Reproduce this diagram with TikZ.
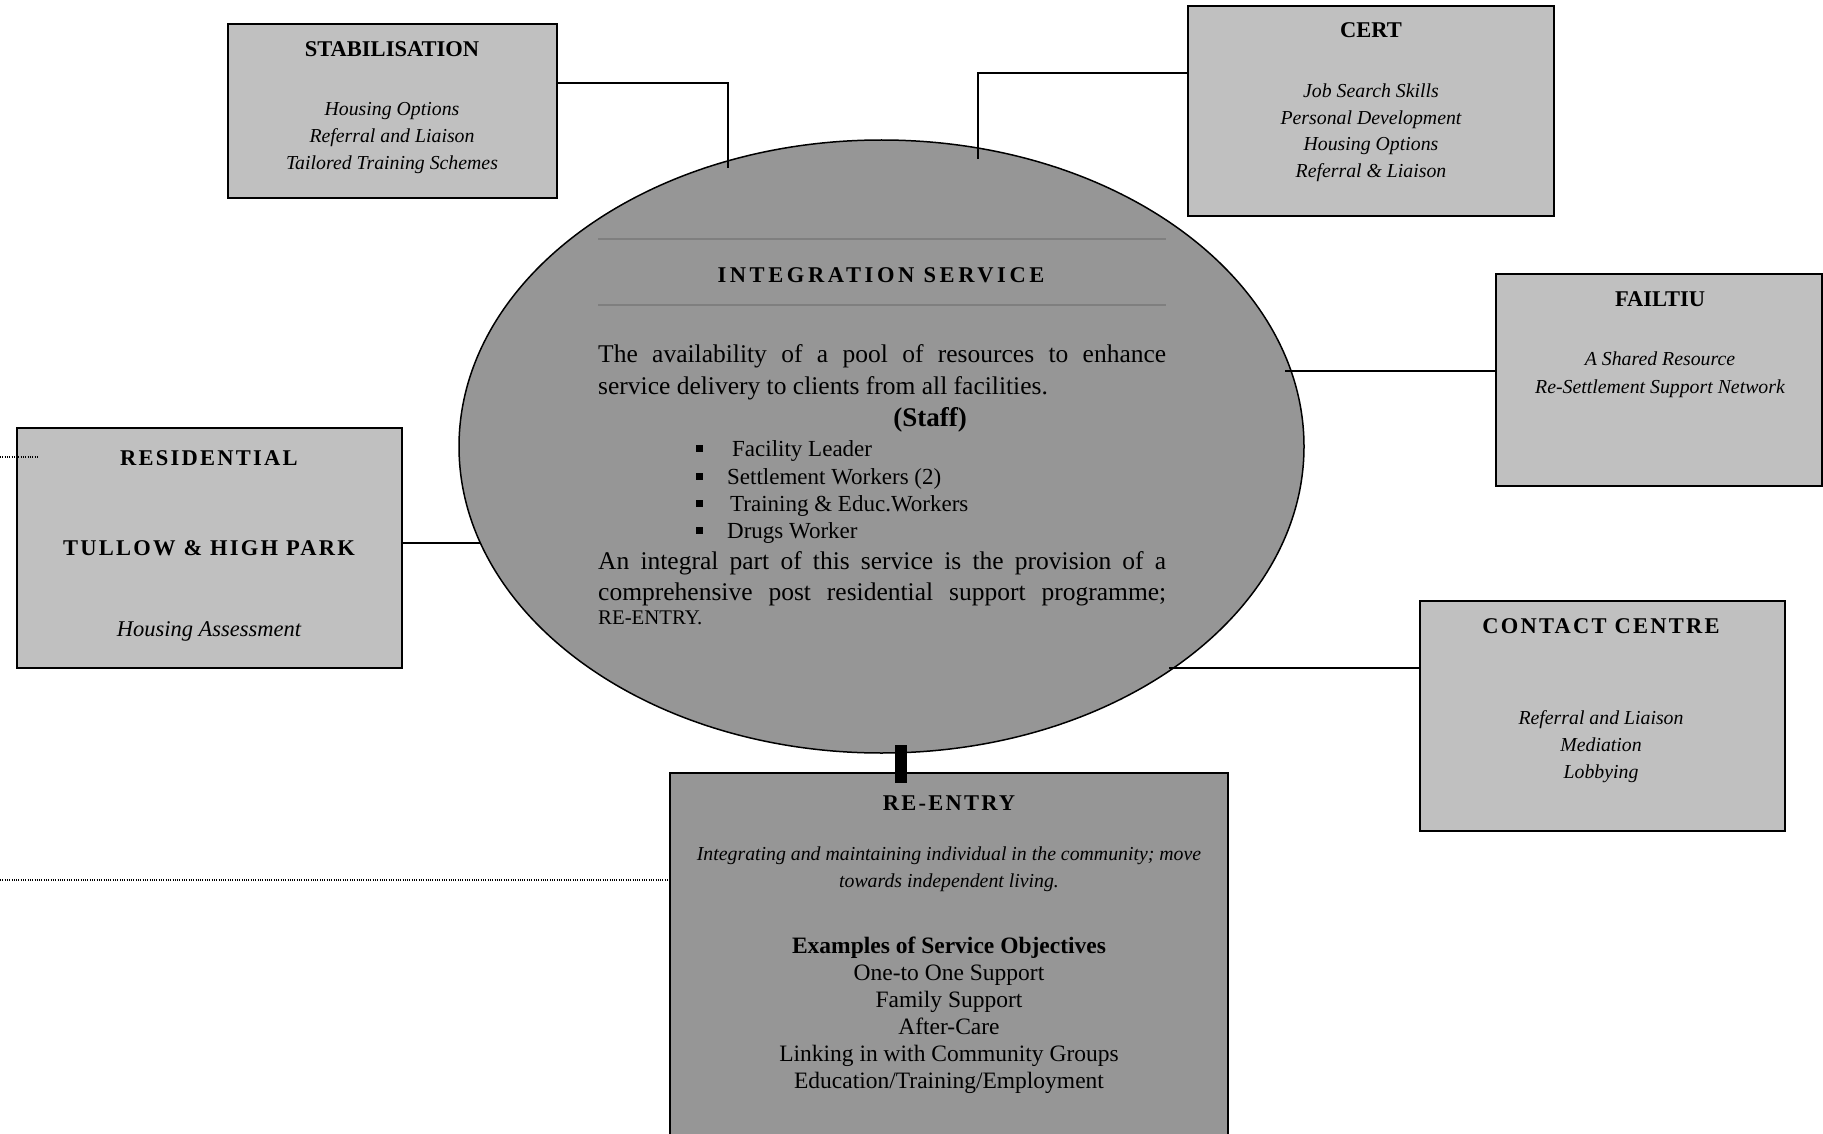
\documentclass[tikz,border=0pt]{standalone}
\usepackage{fontspec}
\setmainfont{Liberation Serif}
\usetikzlibrary{shapes.geometric}
\definecolor{boxgray}{HTML}{C0C0C0}
\definecolor{midgray}{HTML}{969696}
\definecolor{rulegray}{HTML}{7F7F7F}
\begin{document}
\begin{tikzpicture}[x=1pt,y=-1pt,
  box/.style={draw, line width=1.8pt, fill=boxgray, inner sep=0pt, outer sep=0pt},
  dbox/.style={box, fill=midgray},
  title/.style={anchor=base, inner sep=0pt, font=\fontsize{22.5}{27}\selectfont\bfseries},
  stitle/.style={anchor=base, inner sep=0pt, font={\fontsize{22.5}{27}\selectfont\bfseries\addfontfeature{LetterSpace=10}}},
  wtitle/.style={anchor=base, inner sep=0pt, font={\fontsize{22.5}{27}\selectfont\bfseries\addfontfeature{LetterSpace=16}}},
  ital/.style={anchor=base, inner sep=0pt, font=\fontsize{19.8}{27}\selectfont\itshape},
  rom/.style={anchor=base, inner sep=0pt, font=\fontsize{23.5}{27}\selectfont},
  body/.style={anchor=base west, inner sep=0pt, font=\fontsize{25.5}{32}\selectfont},
  bul/.style={anchor=base west, inner sep=0pt, font=\fontsize{23}{27}\selectfont},
  sq/.style={fill=black, minimum width=7pt, minimum height=7pt, inner sep=0pt},
  conn/.style={line width=1.5pt},
  dots/.style={line width=1.1pt, dash pattern=on 1pt off 1.3pt},
  rule/.style={rulegray, line width=1.5pt},
  barline/.style={line width=12pt}
]
\useasboundingbox (0,0) rectangle (1823,1134);
\clip (0,0) rectangle (1823,1134);

% central ellipse
\node[draw, line width=1.5pt, fill=midgray, ellipse, minimum width=845pt, minimum height=613pt, inner sep=0pt] (ell) at (881.5,446.5) {};

% boxes
\node[box, minimum width=329pt, minimum height=174pt] (stab) at (392.5,111) {};
\node[box, minimum width=366pt, minimum height=210pt] (cert) at (1371,111) {};
\node[box, minimum width=326pt, minimum height=212pt] (fail) at (1659,380) {};
\node[box, minimum width=385pt, minimum height=240pt] (res) at (209.5,548) {};
\node[box, minimum width=365pt, minimum height=230pt] (cont) at (1602.5,716) {};
\node[dbox, minimum width=558pt, minimum height=400pt] (reen) at (949,973) {};

% connectors
\coordinate (s1) at (728,168);
\draw[conn] (stab.east |- 0,83) -| (s1);
\coordinate (c1) at (978,159);
\draw[conn] (cert.west |- 0,73) -| (c1);
\coordinate (f1) at (1285,371);
\draw[conn] (f1) -- (fail.west |- f1);
\coordinate (k1) at (1169,668);
\draw[conn] (k1) -- (cont.west |- k1);
\coordinate (r1) at (480,543);
\draw[conn] (res.east |- r1) -- (r1);
\coordinate (bt) at (901,745);
\coordinate (bb) at (901,783);
\draw[barline] (bt) -- (bb);

% dotted lines
\coordinate (d1) at (0,457);
\coordinate (d1e) at (38,457);
\draw[dots] (d1) -- (d1e);
\coordinate (d2) at (0,880);
\draw[dots] (d2) -- (reen.west |- d2);

% ellipse content
\coordinate (ra) at (598,239); \coordinate (rb) at (1166,239);
\coordinate (rc) at (598,305); \coordinate (rd) at (1166,305);
\draw[rule] (ra) -- (rb);
\draw[rule] (rc) -- (rd);
\node[wtitle] (ist) at (881,282.5) {INTEGRATION SERVICE};
\node[body] (p1) at (598,362) {\makebox[568pt][s]{The availability of a pool of resources to enhance}};
\node[body] (p2) at (598,394) {service delivery to clients from all facilities.};
\node[anchor=base, inner sep=0pt, font=\fontsize{27}{32}\selectfont\bfseries] (staff) at (930,426.5) {(Staff)};
\node[sq] (q1) at (699,448.5) {};
\node[sq] (q2) at (699,476.5) {};
\node[sq] (q3) at (699,503.5) {};
\node[sq] (q4) at (699,530.5) {};
\node[bul] (l1) at (732,456.5) {Facility Leader};
\node[bul] (l2) at (727,484.5) {Settlement Workers (2)};
\node[bul] (l3) at (730,511.5) {Training \& Educ.Workers};
\node[bul] (l4) at (727,538.5) {Drugs Worker};
\node[body] (p3) at (598,569) {\makebox[568pt][s]{An integral part of this service is the provision of a}};
\node[body] (p4) at (598,600) {\makebox[568pt][s]{comprehensive post residential support programme;}};
\node[anchor=base west, inner sep=0pt, font=\fontsize{20.8}{25}\selectfont] (p5) at (598,624.5) {RE-ENTRY.};

% STABILISATION
\node[title] (stt) at (392,56.5) {STABILISATION};
\node[ital] (st1) at (392,116) {Housing Options};
\node[ital] (st2) at (392,143) {Referral and Liaison};
\node[ital] (st3) at (392,170) {Tailored Training Schemes};

% CERT
\node[title] (cet) at (1371,37.5) {CERT};
\node[ital] (ce1) at (1371,98) {Job Search Skills};
\node[ital] (ce2) at (1371,124.5) {Personal Development};
\node[ital] (ce3) at (1371,151) {Housing Options};
\node[ital] (ce4) at (1371,178) {Referral \& Liaison};

% FAILTIU
\node[title] (fat) at (1660,306.5) {FAILTIU};
\node[ital] (fa1) at (1660,365.5) {A Shared Resource};
\node[ital] (fa2) at (1660,393.5) {Re-Settlement Support Network};

% RESIDENTIAL
\node[stitle] (ret) at (209,465.5) {RESIDENTIAL};
\node[stitle] (re2) at (209,555) {TULLOW \& HIGH PARK};
\node[anchor=base, inner sep=0pt, font=\fontsize{22.5}{27}\selectfont\itshape] (re3) at (209,636.5) {Housing Assessment};

% CONTACT CENTRE
\node[stitle] (cot) at (1601,633.5) {CONTACT CENTRE};
\node[ital] (co1) at (1601,724) {Referral and Liaison};
\node[ital] (co2) at (1601,751) {Mediation};
\node[ital] (co3) at (1601,778) {Lobbying};

% RE-ENTRY
\node[stitle] (rnt) at (949,810.5) {RE-ENTRY};
\node[ital] (rn1) at (949,860) {Integrating and maintaining individual in the community; move};
\node[ital] (rn2) at (949,887) {towards independent living.};
\node[rom, font=\fontsize{23.5}{27}\selectfont\bfseries] (rnx) at (949,953.5) {Examples of Service Objectives};
\node[rom] (rn3) at (949,980.5) {One-to One Support};
\node[rom] (rn4) at (949,1007.5) {Family Support};
\node[rom] (rn5) at (949,1034) {After-Care};
\node[rom] (rn6) at (949,1061.5) {Linking in with Community Groups};
\node[rom] (rn7) at (949,1088.5) {Education/Training/Employment};
\end{tikzpicture}
\end{document}
